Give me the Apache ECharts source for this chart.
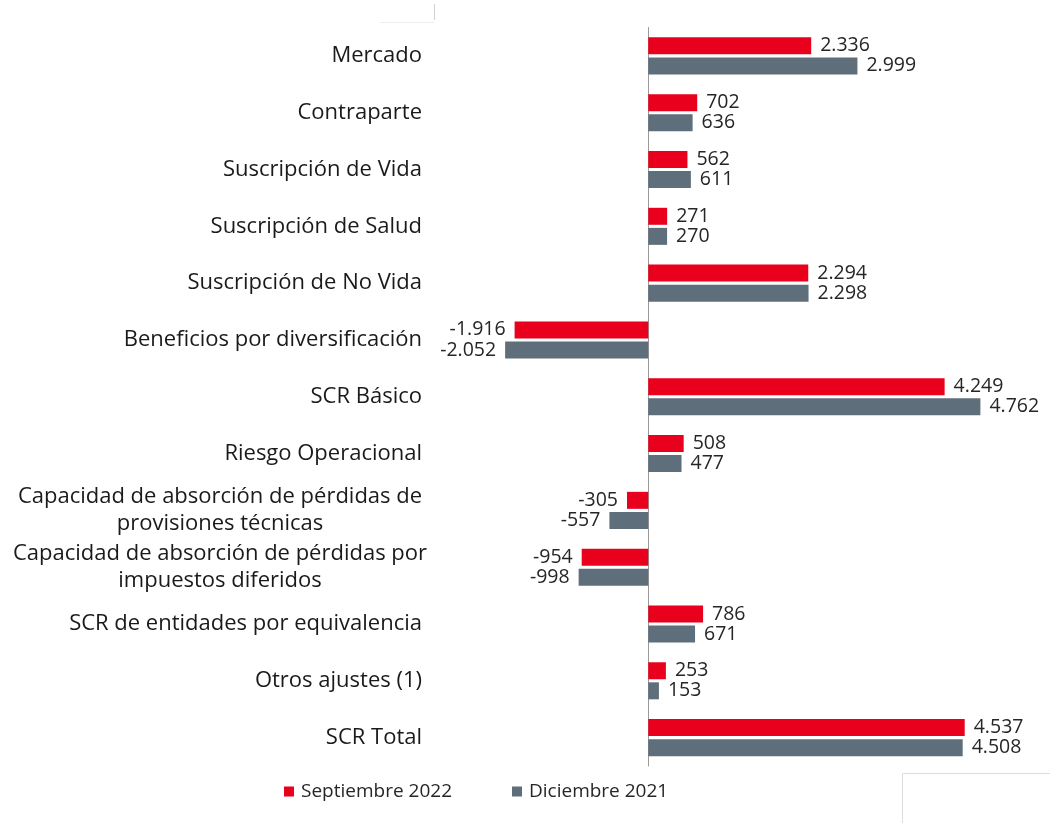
<!DOCTYPE html>
<html>
<head>
<meta charset="utf-8">
<script src="https://cdn.jsdelivr.net/npm/echarts@6/dist/echarts.min.js"></script>
<style>
  html, body { margin: 0; padding: 0; background: #fff; }
  #chart { width: 1050px; height: 823px; }
</style>
</head>
<body>
<div id="chart"></div>
<script>
// categorías (de arriba a abajo)
const categories = [
  'Mercado',
  'Contraparte',
  'Suscripción de Vida',
  'Suscripción de Salud',
  'Suscripción de No Vida',
  'Beneficios por diversificación',
  'SCR Básico',
  'Riesgo Operacional',
  'Capacidad de absorción de pérdidas de\nprovisiones técnicas',
  'Capacidad de absorción de pérdidas por\nimpuestos diferidos',
  'SCR de entidades por equivalencia',
  'Otros ajustes (1)',
  'SCR Total'
]
const sep2022 = [2336, 702, 562, 271, 2294, -1916, 4249, 508, -305, -954, 786, 253, 4537]
const dic2021 = [2999, 636, 611, 270, 2298, -2052, 4762, 477, -557, -998, 671, 153, 4508]
const seriesNames = ['Septiembre 2022', 'Diciembre 2021']

const RED = '#e8001c'
const GRAY = '#5f6e7b'
const FONT = 'Open Sans'

// separador de miles con punto
function fmt(v) {
  const s = Math.abs(v).toString().replace(/\B(?=(\d{3})+(?!\d))/g, '.')
  return (v < 0 ? '-' : '') + s
}

function barData(arr) {
  return arr.map(v => ({
    value: v,
    label: { position: v < 0 ? 'left' : 'right' }
  }))
}

const chart = echarts.init(document.getElementById('chart'))

const labelStyle = {
  show: true,
  distance: 9,
  color: '#262626',
  fontFamily: FONT,
  fontSize: 19.5,
  formatter: p => fmt(p.value)
}

chart.setOption({
  animation: false,
  textStyle: { fontFamily: FONT },
  grid: { left: 439, right: 53, top: 27.5, bottom: 57 },
  legend: {
    bottom: 17,
    left: 279,
    itemWidth: 10,
    itemHeight: 10,
    itemGap: 60,
    icon: 'rect',
    textStyle: { fontFamily: FONT, fontSize: 19, color: '#262626', padding: [0, 0, 0, 2] },
    data: seriesNames
  },
  xAxis: {
    type: 'value',
    min: -3000,
    max: 5000,
    show: false
  },
  yAxis: {
    type: 'category',
    inverse: true,
    data: categories,
    axisTick: { show: false },
    axisLine: { onZero: true, lineStyle: { color: '#9a9a9a', width: 1 } },
    axisLabel: {
      margin: 17,
      color: '#1a1a1a',
      fontFamily: FONT,
      fontSize: 22,
      lineHeight: 27,
      formatter: v => {
        if (v.indexOf('\n') < 0) return v
        return v.split('\n').map(s => '{c|' + s + '}').join('\n')
      },
      rich: {
        c: { width: 404, align: 'center', fontFamily: FONT, fontSize: 22, color: '#1a1a1a', lineHeight: 27 }
      }
    }
  },
  series: [
    {
      name: seriesNames[0],
      type: 'bar',
      data: barData(sep2022),
      barWidth: 17,
      barGap: '18%',
      itemStyle: { color: RED },
      label: labelStyle
    },
    {
      name: seriesNames[1],
      type: 'bar',
      data: barData(dic2021),
      barWidth: 17,
      itemStyle: { color: GRAY },
      label: labelStyle
    }
  ],
  graphic: [
    { type: 'line', shape: { x1: 434.5, y1: 4, x2: 434.5, y2: 20 }, style: { stroke: '#d0d0d0', lineWidth: 1 } },
    { type: 'line', shape: { x1: 380, y1: 22.5, x2: 434, y2: 22.5 }, style: { stroke: '#eeeeee', lineWidth: 1 } },
    { type: 'rect', shape: { x: 902.5, y: 773.5, width: 160, height: 60 }, style: { fill: 'none', stroke: '#dcdcdc', lineWidth: 1 } }
  ]
})
</script>
</body>
</html>
